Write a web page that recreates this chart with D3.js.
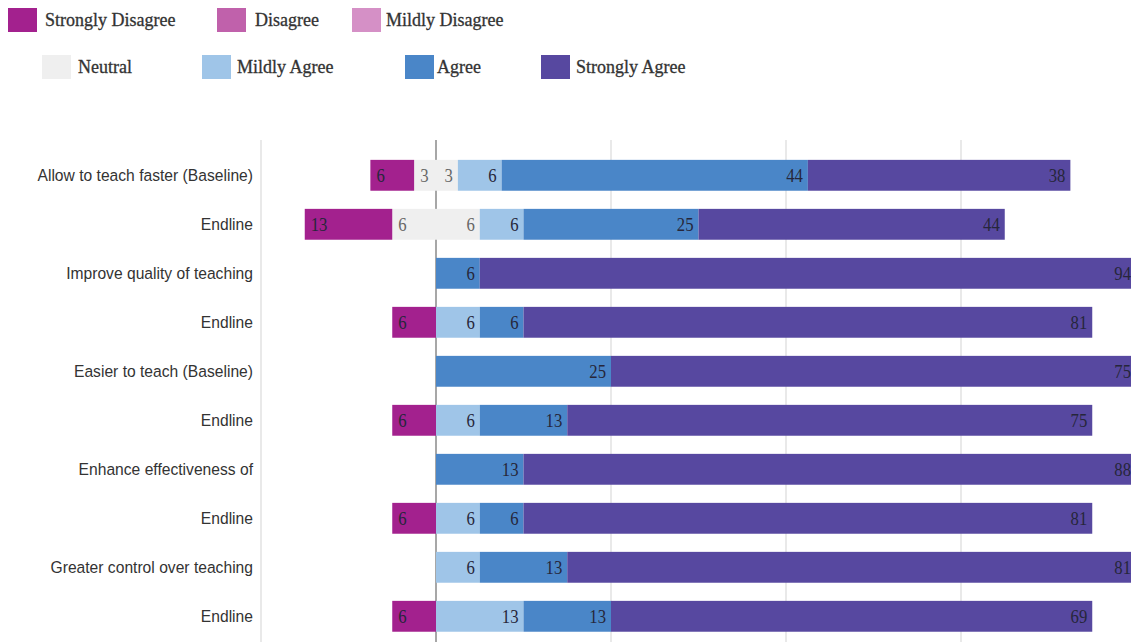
<!DOCTYPE html>
<html><head><meta charset="utf-8">
<script src="https://cdn.jsdelivr.net/npm/d3@7"></script>
<style>
html,body{margin:0;padding:0;background:#fff;overflow:hidden;}
svg{display:block;}
</style></head>
<body>
<svg id="chart" width="1131" height="642"></svg>
<script>
const categories = ["Allow to teach faster (Baseline)", "Endline", "Improve quality of teaching", "Endline",
  "Easier to teach (Baseline)", "Endline", "Enhance effectiveness of", "Endline",
  "Greater control over teaching", "Endline"];
const seriesNames = ["Strongly Disagree", "Disagree", "Mildly Disagree", "Neutral", "Mildly Agree", "Agree", "Strongly Agree"];
const stronglyDisagree = [6.25, 12.5, 0, 6.25, 0, 6.25, 0, 6.25, 0, 6.25];
const disagree         = [0, 0, 0, 0, 0, 0, 0, 0, 0, 0];
const mildlyDisagree   = [0, 0, 0, 0, 0, 0, 0, 0, 0, 0];
const neutral          = [6.25, 12.5, 0, 0, 0, 0, 0, 0, 0, 0];
const mildlyAgree      = [6.25, 6.25, 0, 6.25, 0, 6.25, 0, 6.25, 6.25, 12.5];
const agree            = [43.75, 25, 6.25, 6.25, 25, 12.5, 12.5, 6.25, 12.5, 12.5];
const stronglyAgree    = [37.5, 43.75, 93.75, 81.25, 75, 75, 87.5, 81.25, 81.25, 68.75];
const gridTicks = [-25, 25, 50, 75];
const colors = ["#a3218e", "#c061ab", "#d590c6", "#efefef", "#9fc5e8", "#4a86c8", "#5748a0"];

const svg = d3.select("#chart");
const x = d3.scaleLinear().domain([-25, 100]).range([261, 1136]);
const y = d3.scaleBand().domain(d3.range(categories.length)).range([150.8, 640.8]).paddingInner(0.37).paddingOuter(0.185);

// gridlines
svg.append("g").selectAll("line").data(gridTicks).join("line")
  .attr("x1", d => x(d)).attr("x2", d => x(d))
  .attr("y1", 140).attr("y2", 642)
  .attr("stroke", "#e2e2e2").attr("stroke-width", 1.5);
svg.append("line").attr("x1", x(0)).attr("x2", x(0)).attr("y1", 140).attr("y2", 642)
  .attr("stroke", "#8a8a8a").attr("stroke-width", 1.5);

// build segments
const segs = [];
categories.forEach((c, i) => {
  const neg = [
    {s: 3, v: neutral[i] / 2},
    {s: 2, v: mildlyDisagree[i]},
    {s: 1, v: disagree[i]},
    {s: 0, v: stronglyDisagree[i]}
  ];
  let acc = 0;
  neg.forEach(n => {
    if (n.v > 0) segs.push({i, s: n.s, v: n.v, x0: -(acc + n.v), x1: -acc, neg: true});
    acc += n.v;
  });
  const pos = [
    {s: 3, v: neutral[i] / 2},
    {s: 4, v: mildlyAgree[i]},
    {s: 5, v: agree[i]},
    {s: 6, v: stronglyAgree[i]}
  ];
  acc = 0;
  pos.forEach(p => {
    if (p.v > 0) segs.push({i, s: p.s, v: p.v, x0: acc, x1: acc + p.v, neg: false});
    acc += p.v;
  });
});

svg.append("g").selectAll("rect").data(segs).join("rect")
  .attr("x", d => x(d.x0)).attr("width", d => x(d.x1) - x(d.x0))
  .attr("y", d => y(d.i)).attr("height", y.bandwidth())
  .attr("fill", d => colors[d.s]);

svg.append("g").selectAll("text").data(segs).join("text")
  .attr("transform", d => `translate(${d.neg ? x(d.x0) + 6 : x(d.x1) - 5},${y(d.i) + y.bandwidth() / 2}) scale(0.88,1)`)
  .attr("dy", "0.36em")
  .attr("text-anchor", d => d.neg ? "start" : "end")
  .attr("font-family", "'Liberation Serif', 'DejaVu Serif', serif")
  .attr("font-size", 19)
  .attr("fill", d => d.s === 3 ? "#666" : "#26263a")
  .text(d => Math.round(d.v));

// category labels
svg.append("g").selectAll("text").data(categories).join("text")
  .attr("transform", (d, i) => `translate(253,${y(i) + y.bandwidth() / 2}) scale(0.92,1)`)
  .attr("dy", "0.36em")
  .attr("text-anchor", "end")
  .attr("font-family", "'Liberation Sans', Arial, sans-serif")
  .attr("font-size", 17)
  .attr("fill", "#333")
  .text(d => d);

// legend
const legendPos = [
  {sx: 8, sy: 8, tx: 45},
  {sx: 217, sy: 8, tx: 255},
  {sx: 352, sy: 8, tx: 386},
  {sx: 42, sy: 55, tx: 78},
  {sx: 202, sy: 55, tx: 237},
  {sx: 405, sy: 55, tx: 437},
  {sx: 541, sy: 55, tx: 576}
];
const lg = svg.append("g").selectAll("g").data(seriesNames).join("g");
lg.append("rect")
  .attr("x", (d, i) => legendPos[i].sx).attr("y", (d, i) => legendPos[i].sy)
  .attr("width", 29).attr("height", 24)
  .attr("fill", (d, i) => colors[i]);
lg.append("text")
  .attr("x", (d, i) => legendPos[i].tx).attr("y", (d, i) => legendPos[i].sy + 12)
  .attr("dy", "0.36em")
  .attr("font-family", "'Liberation Serif', 'DejaVu Serif', serif")
  .attr("font-size", 18)
  .attr("stroke", "#333").attr("stroke-width", 0.3)
  .attr("fill", "#333")
  .text(d => d);
</script>
</body></html>
